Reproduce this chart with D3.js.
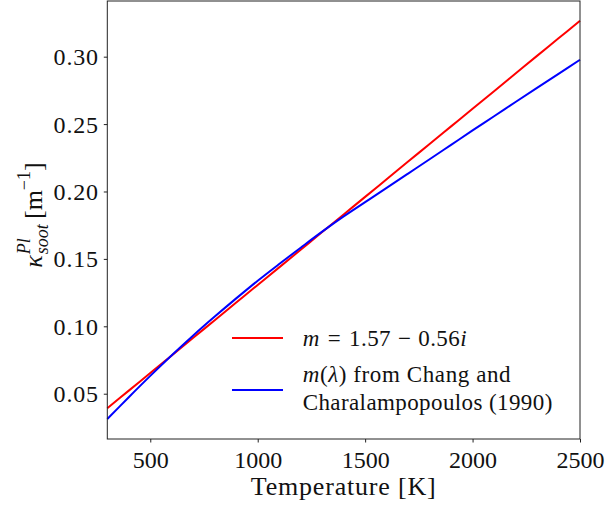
<!DOCTYPE html>
<html><head><meta charset="utf-8">
<script src="https://cdn.jsdelivr.net/npm/d3@7"></script>
<style>html,body{margin:0;padding:0;background:#fff}svg{display:block}</style>
</head><body>
<svg id="c" width="606" height="510"></svg>
<script>
// Data
const temperatures = [300,400,500,600,700,800,900,1000,1100,1200,1300,1400,1500,1600,1700,1800,1900,2000,2100,2200,2300,2400,2500];
const kappaConst = [0.0392,0.0523,0.0653,0.0784,0.0915,0.1045,0.1176,0.1307,0.1437,0.1568,0.1699,0.1830,0.1960,0.2091,0.2222,0.2352,0.2483,0.2614,0.2744,0.2875,0.3006,0.3136,0.3267];
const kappaChang = [0.0312,0.0474,0.0632,0.0785,0.0932,0.1072,0.1207,0.1338,0.1462,0.1583,0.1702,0.1815,0.1921,0.2027,0.2133,0.2239,0.2346,0.2453,0.2558,0.2664,0.2769,0.2873,0.2977];
const xTicks = [500,1000,1500,2000,2500];
const yTicks = [0.05,0.10,0.15,0.20,0.25,0.30];
const seriesColors = ["#ff0000","#0000ff"];

const FONT = "'Liberation Serif', 'Times New Roman', serif";
const svg = d3.select("#c");
const L = 107.3, R = 580, T = 1, B = 439;
const x = d3.scaleLinear().domain([300,2500]).range([L,R]);
const y = d3.scaleLinear().domain([0.0164,0.3413]).range([B,T]);

// lines
const line = d3.line().x(d=>x(d[0])).y(d=>y(d[1])).curve(d3.curveCatmullRom.alpha(0.5));
[kappaConst,kappaChang].forEach((vals,i)=>{
  svg.append("path").datum(temperatures.map((t,j)=>[t,vals[j]]))
    .attr("d", line).attr("fill","none")
    .attr("stroke",seriesColors[i]).attr("stroke-width",2);
});

// frame
svg.append("rect").attr("x",L).attr("y",T).attr("width",R-L).attr("height",B-T)
  .attr("fill","none").attr("stroke","#222").attr("stroke-width",1);

// axes
const xa = svg.append("g").attr("transform",`translate(0,${B})`)
  .call(d3.axisBottom(x).tickValues(xTicks).tickSize(3.5).tickPadding(7).tickFormat(d3.format("d")));
const ya = svg.append("g").attr("transform",`translate(${L},0)`)
  .call(d3.axisLeft(y).tickValues(yTicks).tickSize(3.5).tickPadding(5).tickFormat(d3.format(".2f")));
[xa,ya].forEach(a=>{
  a.select(".domain").remove();
  a.selectAll(".tick line").attr("stroke","#222");
  a.selectAll(".tick text").attr("font-family",FONT).attr("font-size",24).attr("fill","#111");
});
xa.selectAll(".tick text").attr("dy",null).attr("y",29.3);
ya.selectAll(".tick text").attr("dy","0.33em").attr("letter-spacing",0.8);

// x title
svg.append("text").attr("x",(L+R)/2).attr("y",494.5).attr("text-anchor","middle")
  .attr("font-family",FONT).attr("font-size",26).attr("letter-spacing",0.8)
  .attr("fill","#111").text("Temperature [K]");

// y title (rotated), pieces laid out sequentially
const yg = svg.append("g").attr("transform","translate(41.5,215) rotate(-90)");
const pieces = [];
function piece(txt, size, dy, italic){
  const t = yg.append("text").attr("font-family",FONT).attr("font-size",size)
    .attr("fill","#111").attr("y",dy).text(txt);
  if (italic) t.attr("font-style","italic");
  pieces.push(t);
  return t;
}
piece("κ",26,0,true);
piece("Pl",18,-12,true);
piece("soot",18,6,true);
piece("\u2009[m",26,0,false);
piece("−1",18,-12,false);
piece("]",26,0,false);
let cx = 0;
const kW = pieces[0].node().getComputedTextLength();
pieces[0].attr("x",0); cx = kW + 1;
pieces[1].attr("x",cx);
pieces[2].attr("x",cx);
cx += Math.max(pieces[1].node().getComputedTextLength(), pieces[2].node().getComputedTextLength());
for (let k=3;k<pieces.length;k++){
  pieces[k].attr("x",cx);
  cx += pieces[k].node().getComputedTextLength();
}
pieces.forEach(p=>p.attr("x", +p.attr("x") - cx/2));

// legend
const lg = svg.append("g");
const legendY = [338, 390];
legendY.forEach((ly,i)=>{
  lg.append("line").attr("x1",232).attr("x2",283).attr("y1",ly).attr("y2",ly)
    .attr("stroke",seriesColors[i]).attr("stroke-width",2);
});
const LF = 23;
const t1 = lg.append("text").attr("x",302.7).attr("y",346).attr("font-family",FONT)
  .attr("font-size",LF).attr("fill","#111").attr("letter-spacing",0.4);
t1.append("tspan").attr("font-style","italic").text("m");
t1.append("tspan").attr("dx",8).text("=");
t1.append("tspan").attr("dx",8).text("1.57");
t1.append("tspan").attr("dx",7).text("−");
t1.append("tspan").attr("dx",7).text("0.56");
t1.append("tspan").attr("font-style","italic").text("i");
const t2 = lg.append("text").attr("x",302.7).attr("y",382).attr("font-family",FONT)
  .attr("font-size",LF).attr("fill","#111").attr("letter-spacing",0.6);
t2.append("tspan").attr("font-style","italic").text("m");
t2.append("tspan").text("(");
t2.append("tspan").attr("font-style","italic").text("λ");
t2.append("tspan").text(")\u00a0from Chang and");
lg.append("text").attr("x",302.7).attr("y",410).attr("font-family",FONT)
  .attr("font-size",LF).attr("fill","#111").attr("letter-spacing",0.4)
  .text("Charalampopoulos (1990)");
</script>
</body></html>
